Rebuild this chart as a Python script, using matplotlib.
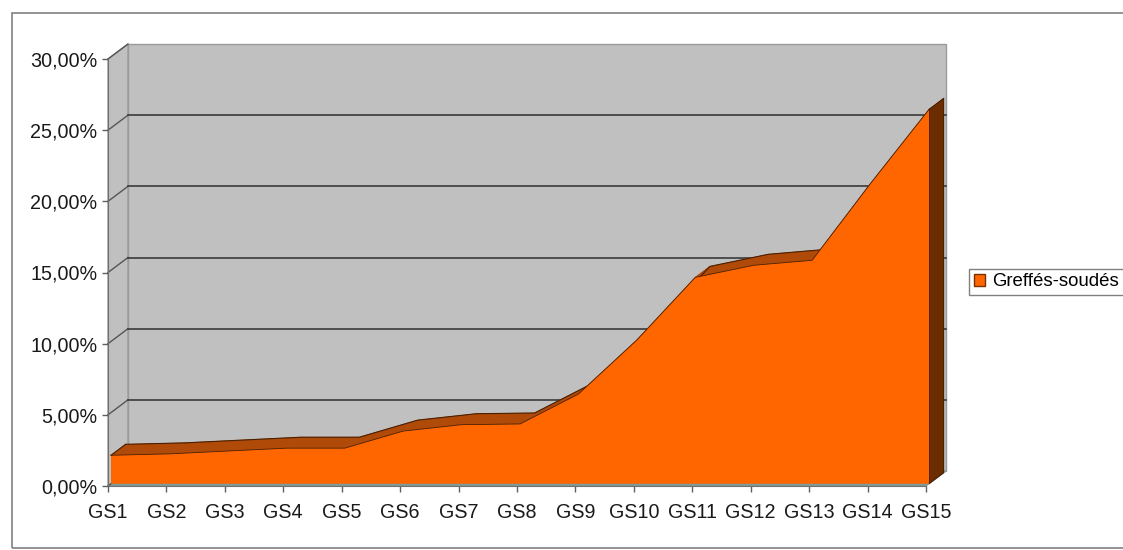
import matplotlib
matplotlib.use("Agg")
import matplotlib.pyplot as plt
from matplotlib.patches import Polygon, Rectangle
import numpy as np

plt.rcParams['font.family'] = ['Liberation Sans', 'DejaVu Sans']

# ---- data ----
categories = ["GS1", "GS2", "GS3", "GS4", "GS5", "GS6", "GS7", "GS8",
              "GS9", "GS10", "GS11", "GS12", "GS13", "GS14", "GS15"]
values = [2.0, 2.1, 2.3, 2.5, 2.5, 3.7, 4.15, 4.2, 6.3, 10.1, 14.5, 15.35, 15.7, 21.1, 26.3]
series_name = "Greffés-soudés"
y_ticks = [0, 5, 10, 15, 20, 25, 30]
y_tick_labels = ["0,00%", "5,00%", "10,00%", "15,00%", "20,00%", "25,00%", "30,00%"]

# ---- layout (pixels) ----
W, H = 1123, 550
X0_PX, X14_PX = 108, 926      # front positions of GS1 and GS15
Y0_PX, Y30_PX = 486, 59       # front positions of 0% and 30% (from top)
DEPTH_PX = (20, 15)           # 3D depth offset (right, up)

ppc = (X14_PX - X0_PX) / 14.0
ppv = (Y0_PX - Y30_PX) / 30.0
DX = DEPTH_PX[0] / ppc
DY = DEPTH_PX[1] / ppv
F1, F2 = 0.15, 0.88           # series depth span (fraction of wall depth)

fig = plt.figure(figsize=(W / 100, H / 100), dpi=100)
fig.patch.set_facecolor('white')
ax = fig.add_axes([0, 0, 1, 1])
ax.set_xlim(-X0_PX / ppc, (W - X0_PX) / ppc)
ax.set_ylim(-(H - Y0_PX) / ppv, Y0_PX / ppv)
ax.patch.set_visible(False)

# outer chart border
fig.add_artist(Rectangle((12 / W, 2 / H), (W + 20) / W, (H - 13 - 2) / H,
                         transform=fig.transFigure, fill=False,
                         edgecolor='#808080', lw=1.2))

n = len(values)
xs = np.arange(n)
xmax = n - 1
ymax = y_ticks[-1]
wall = '#C0C0C0'
grid = '#3a3a3a'

# back wall
ax.add_patch(Polygon([(DX, DY), (xmax + DX, DY), (xmax + DX, ymax + DY), (DX, ymax + DY)],
                     closed=True, facecolor=wall, edgecolor='#9a9a9a', lw=1.0, zorder=1))
# side wall
ax.add_patch(Polygon([(0, 0), (DX, DY), (DX, ymax + DY), (0, ymax)],
                     closed=True, facecolor=wall, edgecolor='#9a9a9a', lw=1.0, zorder=1))
# floor
ax.add_patch(Polygon([(0, 0), (xmax, 0), (xmax + DX, DY), (DX, DY)],
                     closed=True, facecolor='#7f9a9a', edgecolor='#7f9a9a', lw=0.8, zorder=1))

# gridlines
for v in y_ticks:
    ax.plot([0, DX], [v, v + DY], color='#555555', lw=1.0, zorder=2)
    if 0 < v < ymax:
        ax.plot([DX, xmax + DX], [v + DY, v + DY], color=grid, lw=1.2, zorder=2)

# ---- area series (pseudo 3D) ----
vals = np.array(values)
fx, fy = F1 * DX, F1 * DY
bx, by = F2 * DX, F2 * DY
top_col = '#B04A08'
side_col = '#6B2C00'
front_col = '#FF6600'
line_col = '#4a1f00'

for i in range(n - 1):
    poly = [(xs[i] + fx, vals[i] + fy), (xs[i + 1] + fx, vals[i + 1] + fy),
            (xs[i + 1] + bx, vals[i + 1] + by), (xs[i] + bx, vals[i] + by)]
    ax.add_patch(Polygon(poly, closed=True, facecolor=top_col, edgecolor=top_col,
                         lw=0.5, zorder=3))
ax.plot(xs + bx, vals + by, color=line_col, lw=0.8, zorder=3.5)
ax.plot([fx, bx], [vals[0] + fy, vals[0] + by], color=line_col, lw=0.8, zorder=3.5)
# right side face
ax.add_patch(Polygon([(xmax + fx, fy), (xmax + fx, vals[-1] + fy),
                      (xmax + bx, vals[-1] + by), (xmax + bx, by)],
                     closed=True, facecolor=side_col, edgecolor=line_col, lw=0.8, zorder=3.6))
# front face
ax.fill_between(xs + fx, fy, vals + fy, facecolor=front_col, edgecolor='none',
                zorder=4, label=series_name)
ax.plot(xs + fx, vals + fy, color=line_col, lw=0.6, zorder=5)

# ---- axes ----
for s in ['top', 'right']:
    ax.spines[s].set_visible(False)
ax.spines['left'].set_position(('data', 0))
ax.spines['bottom'].set_position(('data', 0))
ax.spines['left'].set_bounds(0, ymax)
ax.spines['bottom'].set_bounds(0, xmax)
ax.spines['left'].set_color('#707070')
ax.spines['bottom'].set_color('#707070')
ax.spines['left'].set_zorder(6)
ax.spines['bottom'].set_zorder(6)

ax.set_yticks(y_ticks)
ax.set_yticklabels(y_tick_labels)
ax.set_xticks(xs)
ax.set_xticklabels(categories)
ax.tick_params(axis='both', direction='out', colors='#606060', labelcolor='#1a1a1a',
               labelsize=14.2, length=4.5, width=1)
ax.tick_params(axis='y', pad=3)
ax.tick_params(axis='x', pad=8)

# legend
handles, labels = ax.get_legend_handles_labels()
leg = fig.legend(handles, labels, loc='center left', bbox_to_anchor=(969 / W, 1 - 282 / H),
                 fontsize=13.4, frameon=True, fancybox=False, borderpad=0.25,
                 handlelength=0.6, handleheight=0.6, handletextpad=0.4, borderaxespad=0)
leg.get_frame().set_edgecolor('#606060')
leg.get_frame().set_linewidth(1.0)
for h in leg.legend_handles:
    h.set_edgecolor('#7a3000')

fig.savefig('out.png', dpi=100)
